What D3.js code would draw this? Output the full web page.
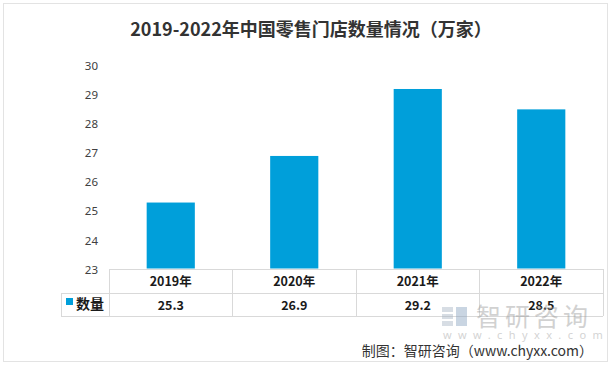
<!DOCTYPE html>
<html>
<head>
<meta charset="utf-8">
<script src="https://cdn.jsdelivr.net/npm/d3@7"></script>
<style>
  html, body { margin: 0; padding: 0; background: #fff; }
  svg { display: block; font-family: "Noto Sans CJK SC", "Noto Sans", sans-serif; }
</style>
</head>
<body>
<svg id="chart" width="613" height="366"></svg>
<script>
// data
const years = ["2019年", "2020年", "2021年", "2022年"];
const values = [25.3, 26.9, 29.2, 28.5];
const yTicks = [23, 24, 25, 26, 27, 28, 29, 30];
const seriesName = "数量";

const svg = d3.select("#chart");
const barColor = "#009fda";
const lineColor = "#d9d9d9";

// outer frame
svg.append("rect")
    .attr("x", 3.5).attr("y", 3.5)
    .attr("width", 604).attr("height", 358)
    .attr("fill", "none")
    .attr("stroke", "#e3e3e3");

// title
svg.append("text")
    .attr("x", 311).attr("y", 36)
    .attr("text-anchor", "middle")
    .attr("font-size", "18px")
    .attr("font-weight", "bold")
    .attr("fill", "#333")
    .text("2019-2022年中国零售门店数量情况（万家）");

// scales
const x = d3.scaleBand()
    .domain(years)
    .range([109, 603])
    .paddingInner(0.61)
    .paddingOuter(0.305);

const y = d3.scaleLinear()
    .domain([23, 30])
    .range([269.5, 65.7]);

// y axis, labels only
svg.append("g")
    .attr("transform", "translate(100,0)")
    .call(d3.axisLeft(y).tickValues(yTicks).tickFormat(d3.format("d")).tickSize(0).tickPadding(2))
    .call(g => g.select(".domain").remove())
    .call(g => g.selectAll("text")
        .attr("font-size", "11.5px")
        .attr("fill", "#404040")
        .attr("font-family", "\"Noto Sans\", sans-serif"));

// bars
svg.append("g")
    .selectAll("rect")
    .data(values)
    .join("rect")
    .attr("x", (d, i) => x(years[i]))
    .attr("y", d => y(d))
    .attr("width", x.bandwidth())
    .attr("height", d => y(23) - y(d) - 1)
    .attr("fill", barColor);

// data table
const step = x.step();
const colLeft = i => 109 + i * step;
const tTop = 269, tMid = 293, tBot = 316, tLeft = 61, tRight = 603;
const table = svg.append("g")
    .attr("stroke", lineColor)
    .attr("stroke-width", 1)
    .attr("shape-rendering", "crispEdges");

table.append("line").attr("x1", 109).attr("x2", tRight).attr("y1", tTop).attr("y2", tTop);
table.append("line").attr("x1", tLeft).attr("x2", tRight).attr("y1", tMid).attr("y2", tMid);
table.append("line").attr("x1", tLeft).attr("x2", tRight).attr("y1", tBot).attr("y2", tBot);
table.append("line").attr("x1", tLeft).attr("x2", tLeft).attr("y1", tMid).attr("y2", tBot);
d3.range(years.length + 1).forEach(i => {
    table.append("line")
        .attr("x1", colLeft(i)).attr("x2", colLeft(i))
        .attr("y1", tTop).attr("y2", tBot);
});

// header row (years)
svg.append("g")
    .selectAll("text")
    .data(years)
    .join("text")
    .attr("x", d => x(d) + x.bandwidth() / 2)
    .attr("y", 286)
    .attr("text-anchor", "middle")
    .attr("font-size", "12.5px")
    .attr("font-weight", "bold")
    .attr("fill", "#1a1a1a")
    .text(d => d);

// value row
svg.append("g")
    .selectAll("text")
    .data(values)
    .join("text")
    .attr("x", (d, i) => x(years[i]) + x.bandwidth() / 2)
    .attr("y", 309.5)
    .attr("text-anchor", "middle")
    .attr("font-size", "12.5px")
    .attr("font-weight", "bold")
    .attr("fill", "#1a1a1a")
    .text(d => d3.format(".1f")(d));

// legend key in the table
svg.append("rect")
    .attr("x", 66).attr("y", 298)
    .attr("width", 7).attr("height", 7)
    .attr("fill", barColor);
svg.append("text")
    .attr("x", 76).attr("y", 309)
    .attr("font-size", "14px")
    .attr("font-weight", "bold")
    .attr("fill", "#1a1a1a")
    .text(seriesName);

// watermark
const wm = svg.append("g").attr("opacity", 0.45);
wm.append("rect").attr("x", 442).attr("y", 307).attr("width", 11).attr("height", 5).attr("fill", "#a8b4c4");
wm.append("rect").attr("x", 442).attr("y", 314).attr("width", 11).attr("height", 5).attr("fill", "#a8b4c4");
wm.append("rect").attr("x", 442).attr("y", 321).attr("width", 11).attr("height", 5).attr("fill", "#a8b4c4");
wm.append("rect").attr("x", 456).attr("y", 307).attr("width", 11).attr("height", 19).attr("fill", "#8aa4c0");
wm.append("text")
    .attr("x", 476).attr("y", 326)
    .attr("font-size", "25px")
    .attr("letter-spacing", "4px")
    .attr("fill", "#9a9a9a")
    .text("智研咨询");
wm.append("text")
    .attr("x", 443).attr("y", 339)
    .attr("font-size", "11px")
    .attr("letter-spacing", "6.4px")
    .attr("fill", "#a0a0a0")
    .attr("font-family", "\"Noto Sans\", sans-serif")
    .text("www.chyxx.com");

// source note
svg.append("text")
    .attr("x", 593).attr("y", 356)
    .attr("text-anchor", "end")
    .attr("font-size", "14px")
    .attr("fill", "#333")
    .text("制图：智研咨询（www.chyxx.com）");
</script>
</body>
</html>
